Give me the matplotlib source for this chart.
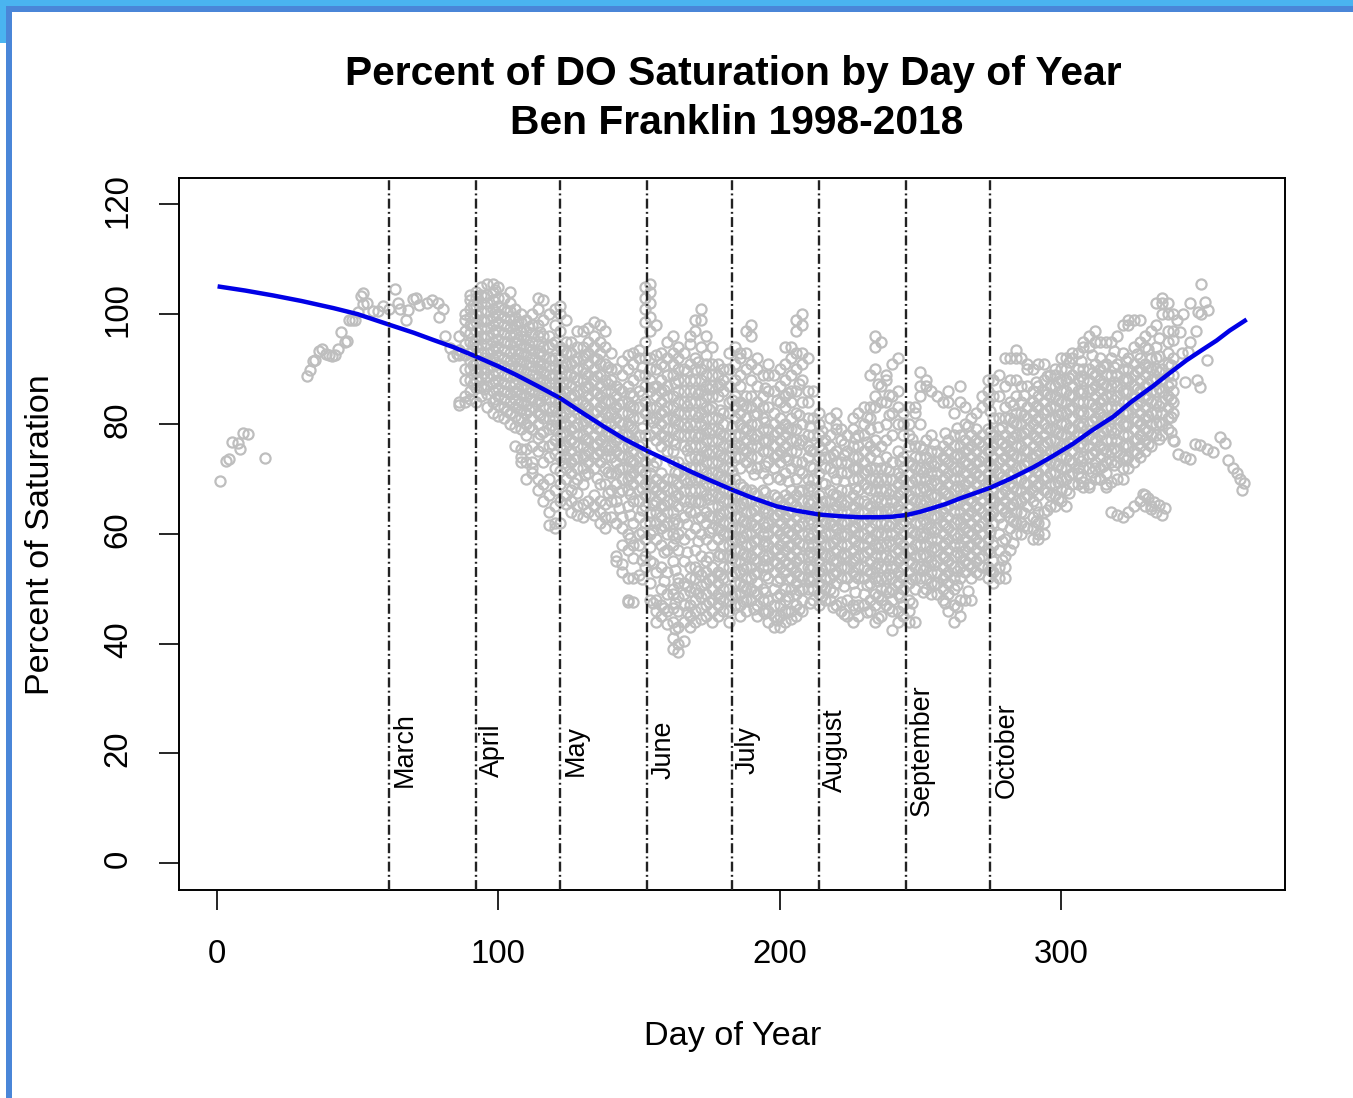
import matplotlib
matplotlib.use('Agg')
import matplotlib.pyplot as plt
from matplotlib.patches import Rectangle
from matplotlib.transforms import ScaledTranslation

plt.rcParams['font.family'] = ['Liberation Sans', 'DejaVu Sans']

# sparse winter points, read one by one
days_winter = [1, 3.2, 4.1, 5.2, 7.3, 8.2, 9.1, 11.1, 17.2, 32.1, 33.1, 34, 34.8, 36.4, 37.2, 38.7, 39.8, 40.8, 41.9, 43.1,
               44.1, 45.5, 46.1, 46.9, 48, 49.1, 50.2, 51.1, 52, 52, 53.2, 55.5, 57.3, 59, 61, 63.3, 64.5, 65, 67.1, 68,
               69.8, 70.8, 72, 74.5, 76.5, 78.5, 79, 80.5, 81, 82.8, 84, 85.2]
sat_winter = [69.6, 73.2, 73.6, 76.7, 76.5, 75.5, 78.3, 78.1, 73.8, 88.8, 89.9, 91.5, 91.7, 93.3, 93.7, 92.8, 92.5, 92.4, 92.5, 93.7,
              96.7, 94.9, 95.1, 98.9, 99, 98.9, 100.4, 103.3, 101.9, 103.9, 102, 100.5, 100.6, 101.5, 101, 104.6, 102, 101, 98.9, 100.8,
              102.8, 102.9, 101.7, 102, 102.5, 102, 99.4, 101, 96, 93.8, 92.4, 92.7]

# main cloud, one list of percent values per day column
days_spring = [86, 88, 90, 92, 94, 96, 98, 100, 102, 104, 106, 108, 110, 112, 114, 116, 118, 120]
sat_spring = [
    [83.5, 84, 92.5, 93.5, 96],
    [84, 85, 88, 90, 92.5, 94.5, 97, 99, 100],
    [84.5, 86, 88, 90, 91.5, 93, 95, 96.5, 98, 99.5, 101, 102.5, 103.5],
    [84, 86.5, 88, 89.5, 91, 92.5, 94, 95.5, 97, 98.5, 100, 101.5, 103, 104],
    [85, 87, 88.5, 90, 91.5, 93, 94.5, 96, 97.5, 99, 100.5, 102, 103.5, 105],
    [83, 85.5, 87, 88.5, 90, 91.5, 93, 94.5, 96, 97.5, 99, 100.5, 102, 103.5, 105.5],
    [82, 84, 86, 87.5, 89, 90.5, 92, 93.5, 95, 96.5, 98, 99.5, 101, 102.5, 104, 105.5],
    [81.5, 83.5, 85, 86.5, 88, 89.5, 91, 92.5, 94, 95.5, 97, 98.5, 100, 101.5, 103, 105],
    [81, 83, 84.5, 86, 87.5, 89, 90.5, 92, 93.5, 95, 96.5, 98, 99.5, 101, 103],
    [80, 82, 84, 85.5, 87, 88.5, 90, 91.5, 93, 94.5, 96, 97.5, 99, 100.5, 102, 104],
    [79.5, 81.5, 83, 84.5, 86, 87.5, 89, 90.5, 92, 93.5, 95, 96.5, 98, 99.5, 101],
    [74, 75.5, 79, 81, 82.5, 84, 85.5, 87, 88.5, 90, 91.5, 93, 94.5, 96, 97, 98.5, 100],
    [73, 75.5, 78, 80, 82, 83.5, 85, 86.5, 88, 89.5, 91, 92.5, 94, 95.5, 97, 99],
    [71, 73, 76, 79, 81, 83, 84.5, 86, 87.5, 89, 90.5, 92, 93.5, 95, 96.5, 98, 100],
    [68, 70, 75, 77.5, 80, 82, 84, 85.5, 87, 88.5, 90, 91.5, 93, 94.5, 96, 98, 101, 103],
    [66, 69, 73, 76, 78.5, 81, 83, 85, 86.5, 88, 89.5, 91, 92.5, 94, 96, 99, 102.5],
    [61.5, 64, 67, 70, 74, 76, 79, 81, 83, 84.5, 86, 87.5, 89, 90.5, 92, 94, 96, 100],
    [61, 62, 65, 68, 72, 74.5, 77, 79, 81, 83, 84.5, 86, 87.5, 89, 90.5, 92, 95, 98, 101],
]

days_may = [122, 124, 126, 128, 130, 132, 134, 136, 138, 140, 142, 144, 146, 148, 150, 152, 154, 156, 158, 160]
sat_may = [
    [62, 66, 69, 71.5, 74, 76, 78, 80, 82, 84, 85.5, 87, 88.5, 90, 92, 94, 97, 100, 101.5],
    [65.5, 67, 70, 72, 74, 76, 78, 80, 82, 84, 86, 87.5, 89, 91, 93, 95, 99],
    [64, 66, 68, 71, 73, 75, 77, 79, 81, 83, 85, 87, 89, 91, 93, 95],
    [63.5, 65, 67.5, 70, 72, 74, 76, 78, 80, 82, 84, 86, 88, 90, 92, 94, 97],
    [63, 65.5, 69, 72, 74, 76, 78, 80, 82, 84, 86, 88, 90, 92, 94, 97],
    [64, 66, 71, 73, 75, 77, 79, 81, 83, 85, 87, 89, 91, 93, 95, 97.5],
    [63.5, 65, 67, 72, 74, 76, 78, 80, 82, 84, 86, 88, 90, 92, 94, 96, 98.5],
    [62, 64, 66, 69, 73, 75, 77, 79, 81, 83, 85, 87, 89, 91, 93, 95, 98],
    [61, 63, 65.5, 69, 72, 74, 76, 78, 80, 82, 84, 86, 88, 91, 94, 97],
    [63, 66, 68, 71, 74, 76, 78, 80, 82, 84, 86, 88, 90, 93],
    [55, 56, 62, 66, 69, 71, 73, 75, 77, 79, 81, 83, 85, 87, 90],
    [53, 54.5, 58, 61, 63, 68, 70, 72, 74, 76, 78, 80, 82, 84, 86, 89, 91.5],
    [47.5, 48, 52, 57, 60, 65, 68, 70, 72, 74, 76, 78, 80, 82, 84, 87, 90, 92.5],
    [47.5, 52, 55.5, 58, 62, 66, 69, 71, 73, 75, 77, 79, 81, 83, 85, 88, 91, 93],
    [52.5, 58, 60, 63, 66, 68, 70, 72, 74, 76, 78, 81, 83, 86, 89, 92, 93.5],
    [54, 56, 59, 62, 65, 67, 69, 71, 73, 75, 78, 82, 84, 87, 89, 92, 95, 98.5, 101, 103, 105],
    [48, 51, 55, 57.5, 60, 62, 64, 67, 69, 71, 74, 78, 81, 83, 86, 88, 90, 92, 97, 99.5, 102, 104, 105.5],
    [44, 46, 48, 53, 59, 62, 64, 66, 68, 70, 73, 77, 79, 81, 83, 85, 87, 90, 92.5, 98],
    [45, 47, 50, 54, 58, 61, 63, 65, 67, 69, 71, 76, 78, 80, 82, 84, 86, 88, 91, 93],
    [43.5, 46, 49, 53, 57, 60, 62, 64, 66, 68, 70, 75, 77, 79, 81, 83, 85, 87, 89, 92, 95],
]

days_june = [162, 164, 166, 168, 170, 172, 174, 176, 178, 180, 182, 184, 186, 188, 190, 192, 194, 196, 198, 200]
sat_june = [
    [39, 41, 44, 46.5, 49, 50, 55, 58, 60, 62, 64, 66, 68, 70, 73, 75, 77, 79, 81, 83, 85, 89, 91, 93, 96],
    [38.5, 40, 43, 46, 48.5, 51, 52, 57, 60, 62, 65, 67, 69, 71, 73, 78, 80, 82, 84, 86, 88, 90, 92, 94],
    [40.5, 44, 47, 49, 51, 55, 59, 63, 66, 68, 70, 72, 76, 78, 80, 82, 84, 86, 88, 90, 93],
    [43, 45, 47, 49.5, 52, 54, 60, 64, 66, 68, 70, 72, 74, 76, 78, 80, 82, 84, 86, 88, 91, 94.5, 96],
    [44, 46, 48, 50, 52, 54, 57, 61, 64, 66, 68, 70, 72, 74, 76, 78, 80, 82, 84, 86, 88, 90, 92, 97, 99],
    [44.5, 46.5, 48.5, 50.5, 52.5, 56, 60, 63, 66, 68, 70, 72, 74, 76, 78, 80, 82, 84, 86, 88, 90, 94, 99, 101],
    [45, 47, 49, 51, 53, 55, 59, 62, 64, 67, 69, 71, 73, 75, 77, 79, 81, 83, 85, 87, 89, 91, 92.5, 96],
    [44, 46, 48, 50, 52, 54, 58, 61, 63, 65, 67, 69, 71, 73, 75, 77, 79, 81, 83, 85, 87, 89, 91, 94],
    [45, 47, 49, 51, 53, 56, 59, 61, 63, 65, 67, 69, 71, 73, 75, 77, 79, 81, 85, 87, 89, 91],
    [46, 48, 50, 52, 54, 56, 58, 60, 62, 64, 66, 68, 70, 72, 74, 76, 78, 80, 82, 86, 88, 90],
    [44, 46, 48, 50, 54, 56, 58, 60, 62, 64, 66, 68, 70, 72, 74, 76, 78, 82, 84, 87, 90, 93],
    [47, 49, 51, 53, 55, 57, 59, 61, 63, 65, 67, 70, 74, 76, 78, 81, 83, 85, 88, 91, 94],
    [45, 47, 49, 51, 53, 55, 57, 59, 61, 63, 65, 67, 69, 72, 74, 76, 78, 80, 82, 84, 87, 89, 92, 93],
    [46, 48, 50, 52, 54, 56, 58, 60, 62, 64, 66, 68, 73, 75, 77, 79, 81, 83, 85, 90, 93, 97],
    [48, 50, 52, 54, 56, 58, 60, 62, 64, 66, 68, 72, 74, 76, 78, 80, 83, 85, 88, 91, 96, 98],
    [45, 47, 49, 51, 53, 55, 57, 59, 61, 63, 65, 67, 72, 74, 76, 78, 80, 82, 84, 87, 90, 92],
    [46, 48, 50, 54, 56, 58, 60, 62, 64, 66, 68, 71, 75, 77, 79, 81, 83, 85, 89],
    [44, 46, 48, 52, 54, 56, 58, 60, 62, 64, 66, 70, 73, 75, 77, 79, 83, 86, 89, 91],
    [43, 45, 47, 50, 53, 55, 57, 59, 61, 63, 65, 67, 72, 74, 76, 78, 80, 82, 86, 89],
    [43, 45, 47, 49, 52, 54, 56, 58, 60, 62, 64, 66, 70, 73, 75, 77, 79, 81, 84, 87, 90],
]

days_aug = [202, 204, 206, 208, 210, 212, 214, 216, 218, 220, 222, 224, 226, 228, 230, 232, 234, 236, 238, 240]
sat_aug = [
    [44, 46, 48, 50, 53, 55, 57, 59, 61, 63, 65, 67, 71, 74, 76, 78, 80, 83, 85, 88, 91, 94],
    [44.5, 46, 50, 52, 54, 56, 58, 60, 62, 64, 66, 68, 72, 75, 77, 79, 81, 84, 86, 89, 92, 94],
    [45, 47, 49, 51, 53, 55, 57, 59, 61, 63, 65, 67, 70, 73, 75, 77, 79, 82, 86, 90, 93, 97, 99],
    [46, 48, 50, 52, 54, 56, 58, 60, 62, 64, 66, 68, 71, 73, 77, 80, 84, 88, 91, 93, 98, 100],
    [50, 52, 54, 56, 58, 60, 62, 64, 66, 68, 70, 74, 76, 78, 81, 84, 86, 92],
    [48, 50, 52, 54, 56, 58, 60, 62, 64, 66, 68, 70, 72, 75, 78, 81, 86],
    [47, 49, 51, 53, 55, 57, 59, 61, 63, 65, 67, 71, 74, 76, 78, 80, 82],
    [48, 50, 52, 54, 56, 58, 60, 62, 64, 66, 69, 72, 74, 77],
    [48, 50, 52, 54, 56, 58, 60, 62, 64, 66, 68, 72, 74, 76, 78, 81],
    [47, 51, 53, 55, 57, 59, 61, 63, 65, 67, 70, 73, 75, 79, 80, 82],
    [46, 47.5, 52, 54, 56, 58, 60, 62, 64, 66, 68, 71, 73, 77, 79],
    [45, 48, 52, 54, 56, 58, 60, 62, 64, 66, 68, 71, 73, 75, 78],
    [44, 47, 51, 53, 55, 57, 59, 61, 63, 65, 67, 70, 72, 74, 76, 79, 81],
    [45, 47, 52, 54, 56, 58, 60, 62, 64, 66, 68, 70, 72, 74, 76, 78, 82],
    [47, 49, 52, 54, 56, 58, 60, 62, 64, 66, 69, 71, 73, 75, 78, 80, 83],
    [46, 48, 51, 53, 55, 57, 59, 61, 63, 65, 68, 70, 72, 74, 76, 79, 81, 83, 89],
    [44, 47, 49, 52, 54, 56, 58, 60, 62, 64, 66, 68, 70, 72, 75, 77, 83, 85, 90, 94, 96],
    [45, 48, 50, 52, 54, 56, 58, 60, 62, 64, 66, 68, 70, 72, 76, 84, 87, 95],
    [47, 50, 52, 54, 56, 58, 60, 62, 64, 66, 68, 70, 72, 74, 77, 80, 84, 88, 89],
    [42.5, 46, 48, 50, 52, 54, 56, 58, 60, 62, 64, 66, 68, 70, 73, 78, 82, 85, 91],
]

days_sep = [242, 244, 246, 248, 250, 252, 254, 256, 258, 260, 262, 264, 266, 268, 270, 272, 274, 276, 278, 280]
sat_sep = [
    [44, 46, 49, 51, 53, 55, 57, 59, 61, 63, 65, 67, 69, 71, 75, 80, 83, 86, 92],
    [45, 47, 50, 52, 54, 56, 58, 60, 62, 64, 66, 68, 70, 72, 74, 78, 80, 82],
    [44, 46, 48, 51, 53, 55, 57, 59, 61, 63, 65, 67, 69, 71, 73, 76, 78, 80, 83],
    [44, 50, 52, 54, 56, 58, 60, 62, 64, 66, 68, 70, 72, 74, 76, 82, 83],
    [52, 54, 56, 58, 60, 62, 64, 66, 68, 70, 72, 74, 76, 80, 85, 87, 89.5],
    [50, 52, 54, 56, 58, 60, 62, 64, 66, 68, 70, 72, 74, 77, 87, 88],
    [49, 51, 53, 55, 57, 59, 61, 63, 65, 67, 69, 71, 73, 75, 78, 86],
    [49, 51, 53, 55, 57, 59, 61, 63, 65, 67, 69, 71, 73, 75, 85],
    [48, 50, 52, 54, 56, 58, 60, 62, 64, 66, 68, 70, 72, 74, 76, 84],
    [46, 49, 51, 53, 55, 57, 59, 61, 63, 65, 67, 69, 71, 73, 75, 77, 84, 86],
    [44, 47, 50, 52, 54, 56, 58, 60, 62, 64, 66, 68, 70, 72, 74, 76, 78, 82],
    [45, 48, 52, 54, 56, 58, 60, 62, 64, 66, 68, 70, 72, 74, 76, 78, 84, 87],
    [48, 53, 55, 57, 59, 61, 63, 65, 67, 69, 71, 73, 75, 77, 80, 83],
    [48, 52, 54, 56, 58, 60, 62, 64, 66, 68, 70, 72, 74, 76, 78, 81],
    [53, 55, 57, 59, 61, 63, 65, 67, 69, 71, 73, 75, 77, 79, 82],
    [54, 56, 58, 60, 62, 64, 66, 68, 70, 72, 74, 76, 78, 83, 85],
    [52, 54, 57, 59, 61, 63, 65, 67, 69, 71, 73, 75, 77, 79, 84, 86, 88],
    [51, 53, 55, 58, 62, 64, 66, 68, 70, 72, 74, 76, 78, 81, 85, 88],
    [52, 54, 57, 60, 63, 65, 67, 69, 71, 73, 75, 77, 79, 81, 85, 89],
    [52, 54, 56, 59, 64, 66, 68, 70, 72, 74, 76, 78, 81, 83, 87, 92],
]

days_oct = [282, 284, 286, 288, 290, 292, 294, 296, 298, 300, 302, 304, 306, 308, 310, 312, 314, 316]
sat_oct = [
    [57, 61, 63, 65, 67, 69, 71, 73, 75, 77, 79, 81, 84, 88, 92],
    [60, 62, 64, 66, 68, 70, 72, 74, 76, 78, 80, 82, 85, 88, 92, 93.5],
    [60, 62, 64, 66, 68, 70, 72, 74, 76, 78, 80, 82, 84, 87, 92],
    [61, 65, 67, 69, 71, 73, 75, 77, 79, 81, 83, 87, 90, 91],
    [59, 61, 63, 66, 68, 70, 72, 74, 76, 78, 80, 82, 84, 86, 90],
    [59, 60, 62, 64, 67, 69, 71, 73, 75, 77, 79, 81, 83, 85, 87, 91],
    [60, 62, 64, 68, 70, 72, 74, 76, 78, 80, 82, 84, 86, 88, 91],
    [65, 67, 69, 71, 73, 75, 77, 79, 81, 83, 85, 87, 89],
    [65, 67, 69, 71, 73, 75, 77, 79, 81, 83, 85, 87, 89, 90],
    [66, 68, 70, 72, 74, 76, 78, 80, 82, 84, 86, 88, 90, 92],
    [65, 68, 70, 72, 74, 76, 78, 80, 82, 84, 86, 88, 90, 92],
    [69, 71, 73, 75, 77, 79, 81, 83, 85, 87, 89, 92, 93],
    [69, 72, 74, 76, 78, 80, 82, 84, 86, 88, 90, 93],
    [68.5, 72, 74, 76, 78, 80, 82, 84, 86, 88, 90, 94, 95],
    [69, 72, 74, 76, 78, 80, 82, 84, 86, 88, 90, 94, 96],
    [70, 73, 75, 77, 79, 81, 83, 85, 87, 89, 91, 95, 97],
    [70, 72, 74, 76, 78, 80, 82, 84, 86, 88, 90, 92, 95],
    [69, 71, 73, 75, 77, 79, 81, 83, 85, 87, 89, 91, 95],
]

days_nov = [318, 320, 322, 324, 326, 328, 330, 332, 334, 336, 338, 340]
sat_nov = [
    [64, 69.5, 73, 75, 77, 79, 81, 83, 85, 87, 89, 92, 95],
    [63.5, 70, 73, 75, 77, 79, 81, 83, 85, 87, 89, 91, 96],
    [63, 70, 72, 74, 76, 78, 80, 82, 84, 86, 88, 90, 93, 98],
    [64, 72, 74, 76, 78, 80, 82, 84, 86, 88, 90, 92, 98, 99],
    [65, 73, 75, 77, 79, 81, 83, 85, 87, 89, 91, 94, 99],
    [66, 74, 76, 78, 80, 82, 84, 86, 88, 90, 92, 95, 99],
    [65, 67, 75, 77, 79, 81, 83, 85, 87, 89, 91, 94, 96],
    [64.5, 65, 76, 78, 80, 82, 84, 86, 88, 90, 92, 97],
    [64, 78, 80, 82, 84, 86, 88, 90, 92, 94, 98, 102],
    [63.5, 78, 80, 82, 84, 86, 88, 90, 100, 102, 103],
    [79, 81, 83, 85, 87, 89, 91, 93, 95, 97, 100, 102],
    [77, 82, 84, 86, 89, 92, 95.3, 97, 100],
]

# in-between columns where the cloud is thickest
days_fill_spring = [91, 95, 99, 103, 107, 111, 115, 119, 123, 127, 131, 135, 139, 143, 147, 151]
sat_fill_spring = [
    [87.3, 90.8, 94.6, 98.2, 101.7],
    [86.4, 89.2, 92.1, 95.7, 98.8, 103.1],
    [84.6, 87.9, 91.3, 94.2, 97.1, 100.3, 104.4],
    [82.3, 85.8, 88.7, 91.6, 94.9, 97.8, 100.6],
    [80.7, 83.6, 86.3, 89.8, 92.7, 95.4, 98.7],
    [79.4, 82.6, 85.7, 88.2, 91.3, 94.4, 97.6],
    [78.2, 81.7, 84.3, 87.4, 90.6, 93.2, 96.8],
    [76.3, 79.8, 82.4, 85.9, 88.3, 91.7, 94.6],
    [72.8, 75.3, 78.6, 81.3, 84.7, 87.6, 90.3, 93.4],
    [69.3, 73.6, 76.8, 79.4, 82.7, 85.3, 88.6, 91.4],
    [70.7, 74.4, 77.3, 80.6, 83.4, 86.7, 89.3, 92.6],
    [70.2, 74.6, 76.3, 79.3, 82.4, 85.6, 88.7, 91.8],
    [67.4, 71.3, 75.2, 78.7, 81.3, 84.4, 87.2, 90.4],
    [64.7, 67.6, 71.8, 74.3, 77.6, 80.3, 83.7, 86.4],
    [59.3, 63.4, 67.2, 70.6, 73.3, 76.8, 79.7, 83.2, 85.6],
    [51.7, 55.2, 60.4, 64.3, 68.3, 71.6, 74.7, 79.2, 85.3, 90.4],
]

days_fill_summer = [155, 159, 163, 167, 171, 175, 179, 183, 187, 191, 195, 199, 203, 207, 211, 215, 219, 223, 227, 231, 235, 239]
sat_fill_summer = [
    [47.3, 54.6, 60.7, 65.3, 68.6, 72.3, 80.4, 86.7],
    [46.4, 51.3, 56.7, 61.4, 65.2, 68.7, 77.8, 82.3, 86.2, 90.6],
    [42.6, 47.3, 53.4, 59.2, 62.6, 66.8, 71.3, 76.3, 80.7, 87.4],
    [45.7, 50.4, 56.6, 61.7, 64.8, 69.3, 75.2, 79.4, 83.3, 89.6],
    [49.2, 53.3, 58.6, 62.8, 65.7, 70.4, 73.7, 77.6, 81.3, 85.4, 91.3],
    [47.6, 51.7, 55.8, 60.4, 63.2, 66.3, 70.2, 74.6, 78.3, 82.7, 86.4],
    [48.3, 52.4, 56.3, 60.7, 63.6, 66.7, 70.6, 74.4, 78.4, 82.6, 87.3],
    [48.7, 52.3, 55.6, 58.7, 61.3, 64.6, 67.3, 71.4, 75.7, 79.6, 84.3],
    [47.7, 50.4, 53.6, 56.3, 59.4, 62.3, 65.6, 68.6, 75.4, 79.3, 83.4],
    [46.3, 49.6, 52.7, 55.4, 58.7, 61.6, 64.3, 67.4, 70.8, 77.3, 81.6],
    [45.6, 49.3, 52.4, 55.3, 58.6, 61.3, 64.7, 67.6, 72.3, 76.7, 80.3, 86.6],
    [44.3, 48.4, 51.3, 54.6, 57.3, 60.7, 63.4, 66.6, 70.4, 74.3, 78.6, 84.3],
    [45.7, 48.6, 51.7, 54.4, 57.7, 60.3, 63.6, 66.3, 69.6, 73.4, 79.3, 85.6],
    [46.3, 49.7, 52.3, 55.6, 58.4, 61.4, 64.3, 67.7, 71.6, 76.4, 81.7, 87.3],
    [47.4, 51.3, 53.6, 56.7, 59.3, 62.7, 65.4, 68.7, 72.4, 75.3, 79.7],
    [48.6, 50.7, 53.4, 56.3, 59.4, 62.3, 65.7, 69.3, 75.3, 78.7],
    [46.7, 49.3, 52.6, 55.3, 58.3, 61.6, 64.4, 67.3, 71.3, 74.6],
    [45.3, 50.4, 53.7, 56.4, 59.6, 62.4, 65.3, 69.6, 74.4, 76.3],
    [46.3, 49.4, 52.3, 55.6, 58.7, 61.3, 64.7, 68.4, 71.7, 77.4],
    [45.7, 50.6, 53.4, 56.7, 59.3, 62.6, 65.4, 68.3, 71.6, 76.7, 81.3],
    [44.6, 48.7, 51.3, 54.6, 57.4, 60.3, 63.7, 66.6, 69.4, 73.3, 79.4, 87.3],
    [46.4, 49.3, 52.6, 55.3, 58.6, 61.4, 64.6, 67.3, 71.4, 81.6, 85.3],
]

days_fill_fall = [243, 247, 251, 255, 259, 263, 267, 271, 275, 279, 283, 287, 291, 295, 299, 303, 307, 311, 315, 319, 323, 327, 331, 335, 339]
sat_fill_fall = [
    [48.4, 52.3, 55.6, 58.4, 61.7, 64.3, 67.6, 70.4, 73.3],
    [47.3, 51.7, 54.6, 57.3, 60.4, 63.6, 66.3, 69.4, 72.6, 77.3],
    [49.3, 53.4, 56.3, 59.4, 62.6, 65.3, 68.6, 71.3, 75.4],
    [50.7, 54.3, 57.6, 60.3, 63.4, 66.6, 69.7, 72.4, 76.3],
    [47.3, 52.4, 55.7, 58.3, 61.6, 64.7, 67.4, 70.3, 73.6, 78.4],
    [46.6, 50.7, 53.3, 56.6, 59.3, 62.7, 65.4, 68.7, 71.4, 74.6, 79.3],
    [49.6, 54.4, 57.7, 60.3, 63.4, 66.3, 69.6, 72.7, 75.4, 79.7],
    [52.7, 55.6, 58.3, 61.4, 64.7, 67.4, 70.6, 73.3, 76.7],
    [53.4, 56.7, 60.3, 63.4, 66.3, 69.7, 72.6, 75.3, 78.6, 82.4],
    [55.3, 58.7, 61.7, 64.6, 67.3, 70.4, 73.6, 76.6, 79.4],
    [58.4, 62.3, 65.4, 68.6, 71.3, 74.4, 77.6, 80.3, 83.4],
    [61.4, 63.7, 66.7, 69.3, 72.6, 75.3, 78.4, 81.6, 85.3],
    [62.4, 65.3, 68.7, 71.4, 74.3, 77.6, 80.7, 83.3, 87.6],
    [64.3, 67.6, 70.3, 73.6, 76.7, 79.3, 82.6, 85.4, 88.7],
    [66.3, 69.4, 72.6, 75.3, 78.4, 81.6, 84.3, 87.6],
    [67.4, 70.7, 73.4, 76.6, 79.3, 82.7, 85.3, 88.4, 91.3],
    [70.4, 73.3, 76.6, 79.4, 82.3, 85.6, 88.7, 91.4],
    [71.3, 74.6, 77.3, 80.6, 83.7, 86.4, 89.3, 92.6],
    [72.3, 75.4, 78.7, 81.3, 84.6, 87.3, 90.6],
    [72.6, 75.7, 78.3, 81.6, 84.3, 87.6, 90.4, 93.3],
    [73.4, 76.3, 79.6, 82.4, 85.7, 88.3, 91.4],
    [74.7, 77.3, 80.6, 83.4, 86.3, 89.6, 92.7],
    [76.3, 78.7, 81.4, 84.7, 87.3, 90.4, 93.6],
    [77.3, 80.4, 83.3, 86.6, 89.4, 92.3, 95.6],
    [78.6, 81.3, 84.6, 87.4, 90.7],
]

# low lumps and the strands on the edges of the cloud
days_edge = [306, 308, 310, 312, 314, 316, 329.3, 331, 333, 335, 337, 106, 108, 110, 112, 346, 348, 350]
sat_edge = [71, 69.5, 68.5, 72, 70, 68.5, 67.3, 66.5, 65.8, 65.2, 64.6, 76, 73, 70, 72, 95, 97, 100]

# sparse late points at the end of the year
days_dec = [340.2, 341.7, 344.1, 345.9, 347.7, 349.4, 351.8, 354.2, 356.5, 358.3, 359.5, 361.3, 362.5, 363.7, 365.2, 364.3,
            350, 351.2, 352.4, 348.8, 345.9, 343.5, 341.2, 342.3, 345.3, 348.3, 349.4, 344.1, 351.8, 343]
sat_dec = [76.9, 74.6, 74, 73.6, 76.4, 76.1, 75.5, 74.9, 77.7, 76.6, 73.5, 71.9, 71, 70, 69.3, 67.9,
           105.4, 102.2, 100.7, 100.4, 102, 100, 98.9, 96.8, 93.1, 88, 86.8, 87.7, 91.6, 93]

# fitted curve
fit_day = [1, 10, 20, 30, 41.4, 50, 61.1, 70, 76.9, 84, 92, 100, 106.5, 114, 122, 130, 137.3, 145, 153.3, 160, 168.1, 175,
           183.2, 190, 198.9, 206, 214.1, 221, 228.5, 235.6, 240, 245.1, 250, 254.6, 259, 264, 269, 275, 282, 290.2, 297,
           304.4, 311, 318.6, 325, 332.8, 338, 344.7, 350, 355.4, 360, 365.4]
fit_sat = [105, 104.3, 103.4, 102.4, 101.1, 100, 98.1, 96.6, 95.3, 94, 92.3, 90.5, 88.9, 86.9, 84.7, 82, 79.6, 77.2, 75, 73.4, 71.4, 69.8,
           68, 66.6, 65, 64.2, 63.5, 63.2, 63, 63, 63.1, 63.4, 64, 64.7, 65.4, 66.4, 67.3, 68.4, 70, 72.1, 74.1,
           76.4, 78.8, 81.3, 84, 86.9, 89, 91.6, 93.4, 95.2, 97, 98.8]

months = ['March', 'April', 'May', 'June', 'July', 'August', 'September', 'October']
month_days = [61, 92, 122, 153, 183, 214, 245, 275]

x_ticks = [0, 100, 200, 300]
y_ticks = [0, 20, 40, 60, 80, 100, 120]

W, H = 1353, 1098
fig = plt.figure(figsize=(W / 100, H / 100), dpi=100)

# window border from the screenshot
fig.add_artist(Rectangle((0, 1 - 12 / H), 1, 12 / H, transform=fig.transFigure, color='#4A86D8', lw=0))
fig.add_artist(Rectangle((0, 1 - 6 / H), 1, 6 / H, transform=fig.transFigure, color='#4AB4F0', lw=0))
fig.add_artist(Rectangle((0, 1 - 43 / H), 6 / W, 43 / H, transform=fig.transFigure, color='#4AB4F0', lw=0))
fig.add_artist(Rectangle((6 / W, 0), 6 / W, 1 - 6 / H, transform=fig.transFigure, color='#4A86D8', lw=0))

ax = fig.add_axes([179 / W, 1 - 890 / H, (1285 - 179) / W, (890 - 178) / H])

all_x = list(days_winter) + days_edge + days_dec
all_y = list(sat_winter) + sat_edge + sat_dec
for days, cols in [(days_spring, sat_spring), (days_may, sat_may), (days_june, sat_june),
                   (days_aug, sat_aug), (days_sep, sat_sep), (days_oct, sat_oct), (days_nov, sat_nov),
                   (days_fill_spring, sat_fill_spring), (days_fill_summer, sat_fill_summer),
                   (days_fill_fall, sat_fill_fall)]:
    for d, vals in zip(days, cols):
        all_x += [d] * len(vals)
        all_y += vals

ax.plot(all_x, all_y, ls='none', marker='o', ms=7.3, mfc='none', mec='#BEBEBE', mew=1.6, zorder=2)
ax.plot(fit_day, fit_sat, color='#0000E6', lw=3.2, zorder=3)

for d, name in zip(month_days, months):
    ax.axvline(d, color='#222222', lw=1.7, ls=(0, (4.2, 1.4, 0.8, 1.4)), zorder=4)
    ax.text(d + 8.2, 20.6, name, rotation=90, ha='center', va='baseline', rotation_mode='anchor',
            fontsize=19.4, zorder=5)

ax.set_xlim(-13.5, 379.7)
ax.set_ylim(-4.9, 124.8)
ax.set_xticks(x_ticks)
ax.set_yticks(y_ticks)
ax.tick_params(axis='both', length=14.5, width=1.2, labelsize=23.8)
ax.tick_params(axis='x', pad=20.5)
ax.tick_params(axis='y', pad=18)
up = ScaledTranslation(0, 3 / 72, fig.dpi_scale_trans)
for lab in ax.get_yticklabels():
    lab.set_rotation(90)
    lab.set_va('center')
    lab.set_transform(lab.get_transform() + up)
for s in ax.spines.values():
    s.set_linewidth(1.4)

fig.text(733 / W, 1 - 74 / H, 'Percent of DO Saturation by Day of Year', ha='center', va='center',
         fontsize=29.3, fontweight='bold')
fig.text(737 / W, 1 - 123 / H, 'Ben Franklin 1998-2018', ha='center', va='center',
         fontsize=29.3, fontweight='bold')
fig.text(733 / W, 1 - 1036 / H, 'Day of Year', ha='center', va='center', fontsize=24.7)
fig.text(41 / W, 1 - 535 / H, 'Percent of Saturation', rotation=90, ha='center', va='center', fontsize=24.6)

fig.savefig('out.png', dpi=100)
